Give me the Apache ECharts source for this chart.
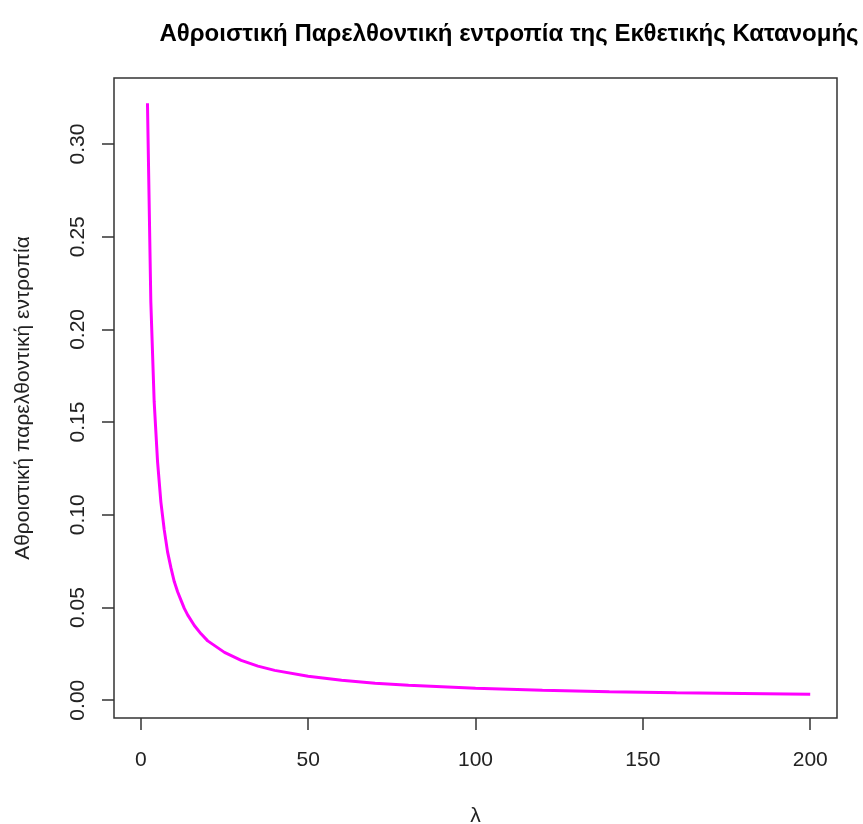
<!DOCTYPE html>
<html>
<head>
<meta charset="utf-8">
<script src="https://cdn.jsdelivr.net/npm/echarts@6/dist/echarts.min.js"></script>
<style>
  html, body { margin: 0; padding: 0; background: #fff; }
  #chart { width: 863px; height: 824px; }
</style>
</head>
<body>
<div id="chart"></div>
<script>
// Values
const lambdaValues = [2, 3, 4, 5, 6, 7, 8, 9, 10, 11, 12, 13, 14, 16, 18, 20, 25, 30, 35, 40, 50, 60, 70, 80, 90, 100, 120, 140, 160, 180, 200];
const entropyValues = [0.322, 0.215, 0.161, 0.129, 0.107, 0.092, 0.080, 0.0715, 0.064, 0.0585, 0.054, 0.0495, 0.046, 0.0403, 0.0358, 0.032, 0.0258, 0.0215, 0.0184, 0.0161, 0.0129, 0.0107, 0.0092, 0.0080, 0.0072, 0.0064, 0.0054, 0.0046, 0.0040, 0.0036, 0.0032];

const xTicks = [0, 50, 100, 150, 200];
const yTicks = [0, 0.05, 0.10, 0.15, 0.20, 0.25, 0.30];

const chartTitle = 'Αθροιστική Παρελθοντική εντροπία της Εκθετικής Κατανομής';
const xName = 'λ';
const yName = 'Αθροιστική παρελθοντική εντροπία';

const font = 'Liberation Sans, Arial, sans-serif';

// Build series data
const seriesData = lambdaValues.map((x, i) => [x, entropyValues[i]]);

const chart = echarts.init(document.getElementById('chart'));
chart.setOption({
    animation: false,
    backgroundColor: '#fff',
    title: {
        text: chartTitle,
        left: 504,
        top: 17,
        textAlign: 'center',
        textStyle: { fontFamily: font, fontSize: 24, fontWeight: 'bold', color: '#000' }
    },
    grid: {
        left: 114,
        top: 78,
        right: 26,
        bottom: 106,
        outerBoundsMode: 'none',
        containLabel: false,
        show: true,
        borderColor: '#333',
        borderWidth: 1.5,
        backgroundColor: 'transparent'
    },
    xAxis: {
        type: 'value',
        min: -8,
        max: 208,
        name: xName,
        nameLocation: 'middle',
        nameGap: 88,
        nameTextStyle: { fontFamily: font, fontSize: 21, color: '#222' },
        axisLine: { show: false, onZero: false },
        splitLine: { show: false },
        axisTick: {
            show: true,
            length: 12,
            customValues: xTicks,
            lineStyle: { color: '#333', width: 1.5 }
        },
        axisLabel: {
            customValues: xTicks,
            margin: 32,
            fontFamily: font,
            fontSize: 21,
            color: '#222'
        }
    },
    yAxis: {
        type: 'value',
        min: -0.0096,
        max: 0.3356,
        name: yName,
        nameLocation: 'middle',
        nameRotate: 90,
        nameGap: 80,
        nameTextStyle: { fontFamily: font, fontSize: 21, color: '#222' },
        axisLine: { show: false, onZero: false },
        splitLine: { show: false },
        axisTick: {
            show: true,
            length: 12,
            customValues: yTicks,
            lineStyle: { color: '#333', width: 1.5 }
        },
        axisLabel: {
            customValues: yTicks,
            rotate: 90,
            margin: 25,
            fontFamily: font,
            fontSize: 21,
            color: '#222',
            formatter: v => v.toFixed(2)
        }
    },
    series: [{
        type: 'line',
        data: seriesData,
        showSymbol: false,
        smooth: false,
        lineStyle: { color: '#FF00FF', width: 3 }
    }]
});
</script>
</body>
</html>
